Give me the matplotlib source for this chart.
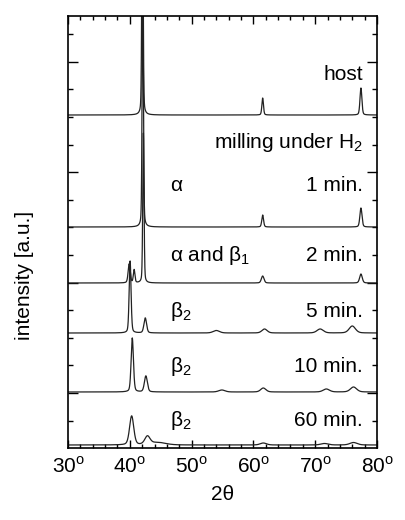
import numpy as np
import matplotlib
matplotlib.use("Agg")
import matplotlib.pyplot as plt
from matplotlib.ticker import MultipleLocator, FixedLocator

# peak lists: position (deg 2theta), height, half width
host_pos = [42.05, 61.5, 77.4]
host_hgt = [260, 17, 27]
host_wid = [0.12, 0.15, 0.18]

min1_pos = [42.1, 61.5, 77.4]
min1_hgt = [260, 12, 19]
min1_wid = [0.12, 0.17, 0.2]

min2_pos = [39.9, 40.7, 42.2, 61.5, 77.4]
min2_hgt = [19, 13, 150, 7, 9]
min2_wid = [0.2, 0.15, 0.12, 0.25, 0.25]

min5_pos = [40.05, 42.5, 54.0, 61.8, 70.8, 76.0]
min5_hgt = [72, 15, 2.5, 4, 4, 7]
min5_wid = [0.18, 0.25, 0.6, 0.5, 0.6, 0.6]

min10_pos = [40.4, 42.6, 54.9, 61.6, 71.8, 76.2]
min10_hgt = [54, 16, 2, 4, 3, 5]
min10_wid = [0.22, 0.28, 0.6, 0.5, 0.6, 0.6]

min60_pos = [40.3, 42.85, 44.5, 61.6, 71.5, 76.2]
min60_hgt = [29, 8, 2.5, 2, 1.5, 2.5]
min60_wid = [0.4, 0.5, 1.5, 0.6, 0.7, 0.7]

offsets = [333, 221, 165, 115, 56, 3]
phases = ["", "α", "α and β$_\\mathregular{1}$", "β$_\\mathregular{2}$", "β$_\\mathregular{2}$", "β$_\\mathregular{2}$"]
times = ["host", "1 min.", "2 min.", "5 min.", "10 min.", "60 min."]
xticks = [30, 40, 50, 60, 70, 80]


def profile(x, pos, hgt, wid, eta=0.3):
    y = np.zeros_like(x)
    for c, h, w in zip(pos, hgt, wid):
        d = (x - c) / w
        y += h * (eta / (1 + d**2) + (1 - eta) * np.exp(-np.log(2) * d**2))
    return y


plt.rcParams['font.family'] = ['Liberation Sans', 'DejaVu Sans']
plt.rcParams['mathtext.fontset'] = 'custom'
plt.rcParams['mathtext.rm'] = 'Liberation Sans'

fig = plt.figure(figsize=(4.06, 5.2), dpi=100)
ax = fig.add_axes([68 / 406, 1 - 448 / 520, 309 / 406, 432 / 520])

x = np.linspace(30, 80, 4000)
peaks = [(host_pos, host_hgt, host_wid), (min1_pos, min1_hgt, min1_wid),
         (min2_pos, min2_hgt, min2_wid), (min5_pos, min5_hgt, min5_wid),
         (min10_pos, min10_hgt, min10_wid), (min60_pos, min60_hgt, min60_wid)]
for (p, h, w), off in zip(peaks, offsets):
    ax.plot(x, off + profile(x, p, h, w), color='#222222', lw=0.9)

ax.set_xlim(30, 80)
ax.set_ylim(0, 432)

ax.xaxis.set_major_locator(FixedLocator(xticks))
ax.set_xticklabels([f"{v}$^\\mathregular{{o}}$" for v in xticks], fontsize=15)
ax.xaxis.set_minor_locator(MultipleLocator(2))
ax.yaxis.set_major_locator(FixedLocator(55 + 110.4 * np.arange(4)))
ax.yaxis.set_minor_locator(FixedLocator(55 + 27.6 * np.arange(-1, 14)))
ax.set_yticklabels([])
ax.tick_params(which='both', direction='in', top=True, right=True, width=1.0)
ax.tick_params(which='major', axis='x', length=6, pad=6)
ax.tick_params(which='minor', axis='x', length=3)
ax.tick_params(which='major', axis='y', length=7)
ax.tick_params(which='minor', axis='y', length=3.5)
for s in ax.spines.values():
    s.set_linewidth(1.2)

ax.set_xlabel("2θ", fontsize=15, labelpad=6)
ax.set_ylabel("intensity [a.u.]", fontsize=15)
ax.yaxis.set_label_coords(-0.11, 0.40)

ty = [0.852, 0.594, 0.434, 0.304, 0.177, 0.051]
for ph, t, yy in zip(phases, times, ty):
    ax.text(0.955, yy, t, transform=ax.transAxes, ha='right', va='baseline', fontsize=15)
    if ph:
        ax.text(0.33, yy, ph, transform=ax.transAxes, ha='left', va='baseline', fontsize=15)
ax.text(0.955, 0.694, "milling under H$_\\mathregular{2}$", transform=ax.transAxes,
        ha='right', va='baseline', fontsize=15)

fig.savefig("out.png", dpi=100)
